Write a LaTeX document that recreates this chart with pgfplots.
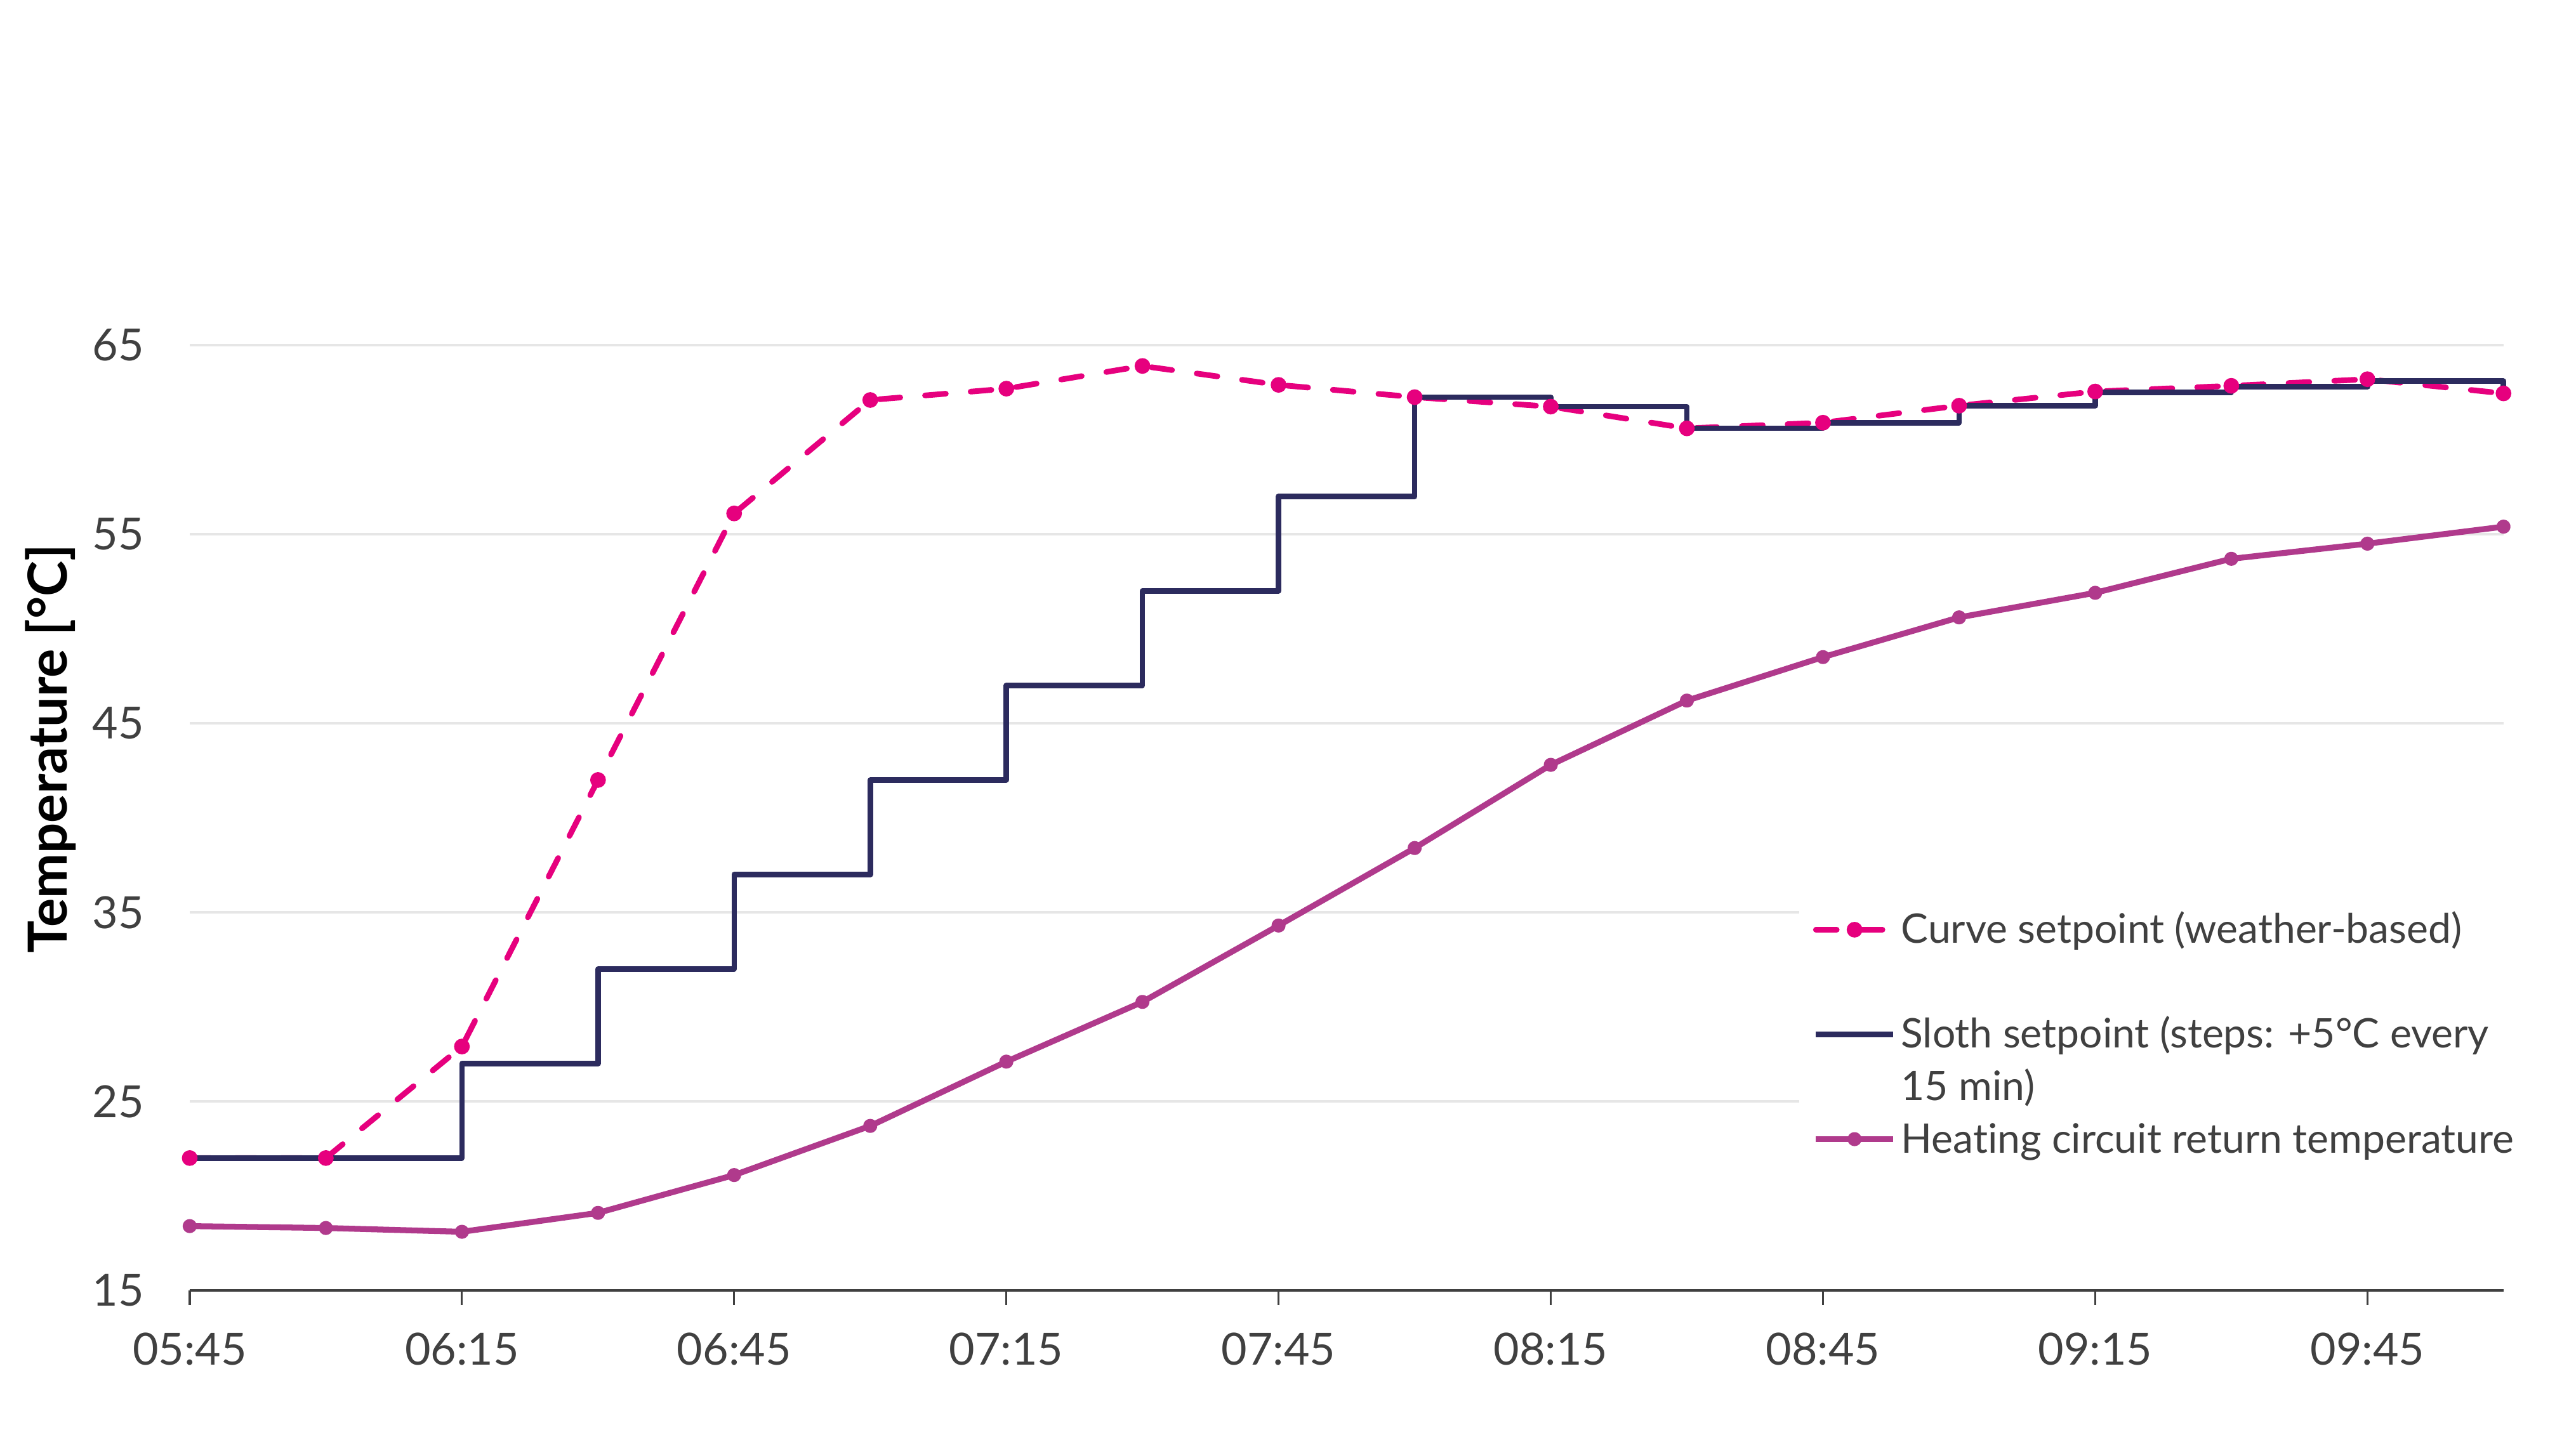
\documentclass[border=0pt]{standalone}
\usepackage{fontspec}
\setmainfont{Lato}[Ligatures=NoCommon]
\usepackage{pgfplots}
\pgfplotsset{compat=1.18}
\definecolor{cpink}{HTML}{E6007E}
\definecolor{cnavy}{HTML}{2C2B5E}
\definecolor{cpurple}{HTML}{B03A8C}
\definecolor{ctext}{HTML}{404040}
\definecolor{cgrid}{HTML}{E6E6E6}

\pgfplotstableread{
t curve
0 22
15 22
30 27.9
45 42.0
60 56.1
75 62.1
90 62.7
105 63.9
120 62.9
135 62.25
150 61.75
165 60.6
180 60.9
195 61.8
210 62.55
225 62.85
240 63.2
255 62.45
}\curvedata

\pgfplotstableread{
t sloth
0 22
15 22
30 27
45 32
60 37
75 42
90 47
105 52
120 57
135 62.25
150 61.75
165 60.6
180 60.9
195 61.8
210 62.5
225 62.8
240 63.1
255 62.45
}\slothdata

\pgfplotstableread{
t ret
0 18.4
15 18.3
30 18.1
45 19.1
60 21.1
75 23.7
90 27.1
105 30.26
120 34.3
135 38.4
150 42.8
165 46.2
180 48.5
195 50.6
210 51.9
225 53.7
240 54.5
255 55.4
}\returndata

\begin{document}
\begin{tikzpicture}
\useasboundingbox (0,0) rectangle (20cm,11.308cm);
\begin{axis}[
  at={(1.473cm,1.286cm)}, anchor=south west,
  scale only axis, width=17.964cm, height=7.341cm,
  xmin=0, xmax=255, ymin=15, ymax=65,
  clip=false,
  axis lines*=left,
  axis line style={-},
  y axis line style={draw=none},
  x axis line style={draw=ctext, line width=0.65pt},
  xtick={0,30,...,240},
  xticklabels={05:45,06:15,06:45,07:15,07:45,08:15,08:45,09:15,09:45},
  ytick={15,25,...,65},
  ymajorgrids, grid style={cgrid, line width=0.5pt},
  tick align=outside,
  major tick length=3.2pt,
  x tick style={draw=ctext, line width=0.45pt},
  y tick style={draw=none},
  tick label style={font=\fontsize{9.8}{12}\selectfont, text=ctext},
  xticklabel style={yshift=-2.6pt},
  yticklabel style={xshift=-3.4pt},
  /pgf/number format/assume math mode=true,
  ylabel={Temperature [°C]},
  ylabel style={at={(rel axis cs:-0.060,0.573)}, anchor=center, font=\fontsize{11.9}{14}\selectfont\bfseries, text=black},
  legend cell align=left,
  legend style={at={(axis cs:177.3,36.47)}, anchor=north west, draw=none, fill=white,
    inner xsep=3pt, inner ysep=4pt, row sep=0pt,
    font=\fontsize{9.0}{11}\selectfont, text=ctext,
    nodes={inner xsep=1.1pt, inner ysep=0pt, text height=8.8pt, text depth=2.77pt}},
]
\addplot[color=cpink, line width=1.25pt, dash pattern=on 4.6pt off 5.5pt, line cap=round,
  mark=*, mark size=1.1pt, mark options={solid}] table[x=t,y=curve] {\curvedata};
\addlegendentry{Curve setpoint (weather-based)}
\addlegendimage{empty legend}
\addlegendentry{}
\addplot[color=cnavy, line width=1.2pt, const plot, line join=round, mark=none] table[x=t,y=sloth] {\slothdata};
\addlegendentry{Sloth setpoint (steps: +5°C every}
\addlegendimage{empty legend}
\addlegendentry{15 min)}
\addplot[color=cpurple, line width=1.3pt, line join=round, mark=*, mark size=0.9pt] table[x=t,y=ret] {\returndata};
\addlegendentry{Heating circuit return temperature}
\end{axis}
\end{tikzpicture}
\end{document}
